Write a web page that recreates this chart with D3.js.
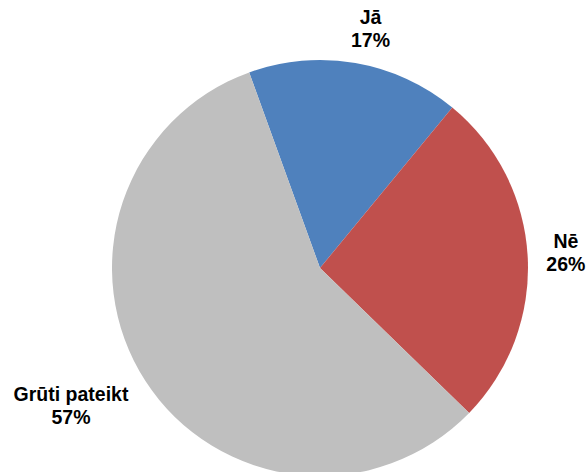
<!DOCTYPE html>
<html>
<head>
<meta charset="utf-8">
<script src="https://cdn.jsdelivr.net/npm/d3@7"></script>
<style>
  html, body { margin: 0; padding: 0; background: #fff; }
  svg { display: block; }
</style>
</head>
<body>
<svg id="chart" width="587" height="472"></svg>
<script>
// Data
const categories = ["Jā", "Nē", "Grūti pateikt"];
const values = [16.5, 26.3, 57.2];
const colors = ["#4F81BD", "#C0504D", "#BFBFBF"];

// Layout
const W = 587, H = 472;
const cx = 320, cy = 268, R = 208;
const startDeg = -19.9;
const labelAngleNudge = [2.45, 1.2, 2.7]; // degrees
const labelRadius = [238, 246, 288];

const svg = d3.select("#chart");
const g = svg.append("g").attr("transform", `translate(${cx},${cy})`);

const toRad = d => d * Math.PI / 180;
const pie = d3.pie().sort(null).value(d => d)
  .startAngle(toRad(startDeg)).endAngle(toRad(startDeg) + 2 * Math.PI);
const arcs = pie(values);
const arc = d3.arc().innerRadius(0).outerRadius(R);

g.selectAll("path.slice").data(arcs).enter().append("path")
  .attr("class", "slice")
  .attr("d", arc)
  .attr("fill", (d, i) => colors[i]);

const total = d3.sum(values);
const labels = g.selectAll("text.lbl").data(arcs).enter().append("text")
  .attr("class", "lbl")
  .attr("text-anchor", "middle")
  .style("font-family", "'Liberation Sans', Arial, sans-serif")
  .style("font-weight", "bold")
  .style("font-size", "19.5px")
  .attr("fill", "#000")
  .attr("transform", (d, i) => {
    const a = (d.startAngle + d.endAngle) / 2 + toRad(labelAngleNudge[i]);
    const r = labelRadius[i];
    return `translate(${Math.sin(a) * r},${-Math.cos(a) * r})`;
  });

labels.append("tspan").attr("x", 0).attr("y", -11.3).text((d, i) => categories[i]);
labels.append("tspan").attr("x", 0).attr("y", 11.3)
  .text(d => Math.round(d.value / total * 100) + "%");
</script>
</body>
</html>
